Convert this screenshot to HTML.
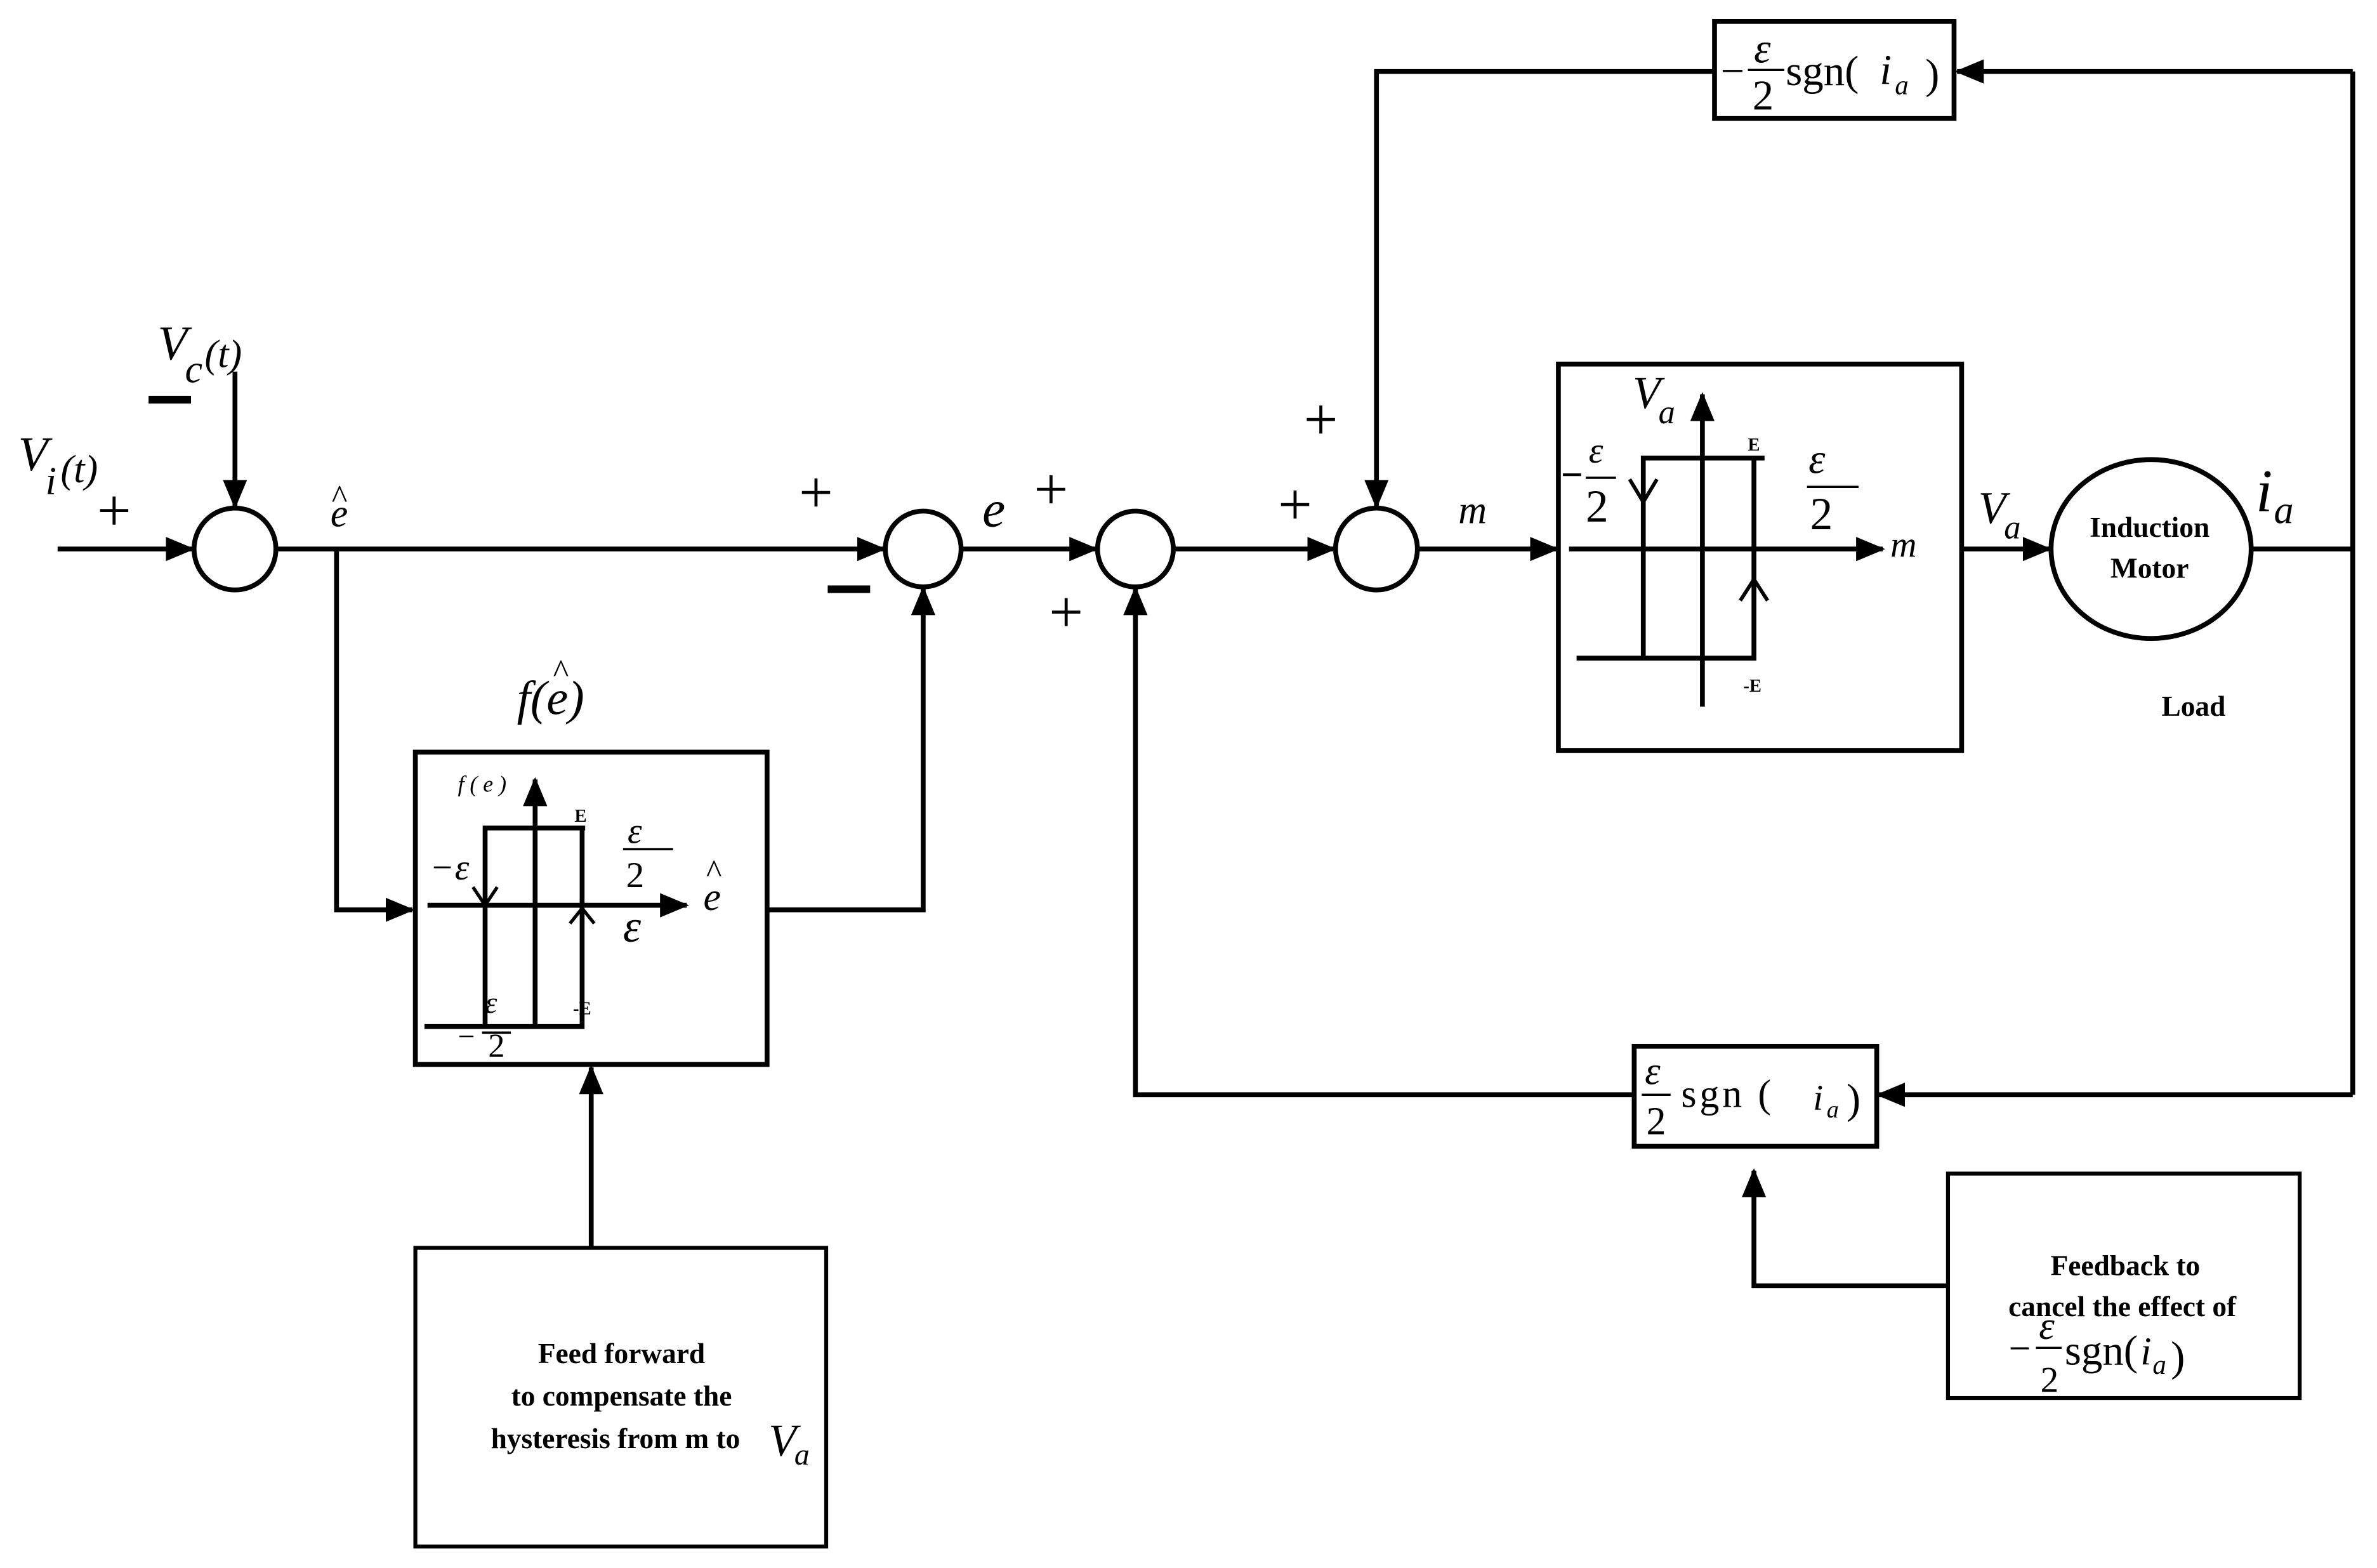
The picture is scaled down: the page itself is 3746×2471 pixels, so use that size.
<!DOCTYPE html>
<html><head><meta charset="utf-8"><style>html,body{margin:0;padding:0;background:#fff}svg{display:block}</style></head><body>
<svg width="3746" height="2471" viewBox="0 0 1568 1034" xmlns="http://www.w3.org/2000/svg">
<defs><marker id="a" markerWidth="6" markerHeight="6" refX="5.5" refY="3" orient="auto" markerUnits="strokeWidth"><path d="M0,0.5 L6,3 L0,5.5 Z" fill="#000"/></marker></defs>
<g stroke="#000" stroke-width="3.2" fill="none">
<line x1="38" y1="362" x2="127" y2="362" marker-end="url(#a)"/>
<line x1="155" y1="245" x2="155" y2="334" marker-end="url(#a)"/>
<circle cx="155" cy="362" r="27"/>
<line x1="182" y1="362" x2="583" y2="362" marker-end="url(#a)"/>
<polyline points="222,362 222,600 272,600" marker-end="url(#a)"/>
<rect x="274" y="496" width="232" height="206"/>
<polyline points="506,600 609,600 609,388" marker-end="url(#a)"/>
<circle cx="609" cy="362" r="25"/>
<line x1="634" y1="362" x2="723" y2="362" marker-end="url(#a)"/>
<circle cx="749" cy="362" r="25"/>
<line x1="774" y1="362" x2="880" y2="362" marker-end="url(#a)"/>
<circle cx="908" cy="362" r="27"/>
<line x1="935" y1="362" x2="1027" y2="362" marker-end="url(#a)"/>
<rect x="1028" y="240" width="266" height="255"/>
<line x1="1294" y1="362" x2="1352" y2="362" marker-end="url(#a)"/>
<ellipse cx="1419" cy="362" rx="66" ry="59"/>
<polyline points="1485,362 1552,362"/>
<polyline points="1552,47 1552,722"/>
<line x1="1552" y1="47" x2="1291" y2="47" marker-end="url(#a)"/>
<rect x="1131" y="14" width="158" height="64"/>
<polyline points="1131,47 908,47 908,334" marker-end="url(#a)"/>
<line x1="1552" y1="722" x2="1239" y2="722" marker-end="url(#a)"/>
<rect x="1078" y="690" width="160" height="66"/>
<polyline points="1078,722 749,722 749,388" marker-end="url(#a)"/>
<rect x="1285" y="774" width="232" height="148" stroke-width="2.6"/>
<polyline points="1285,848 1157,848 1157,772" marker-end="url(#a)"/>
<rect x="274" y="823" width="271" height="197" stroke-width="2.6"/>
<line x1="390" y1="823" x2="390" y2="704" marker-end="url(#a)"/>
<!-- hysteresis main -->
<line x1="1035" y1="362" x2="1242" y2="362" marker-end="url(#a)"/>
<line x1="1123" y1="466" x2="1123" y2="260" marker-end="url(#a)"/>
<polyline points="1084,434 1084,302 1164,302"/>
<polyline points="1040,434 1157,434 1157,302"/>
<polyline points="1075,316 1084,331 1093,316" stroke-width="2.4"/>
<polyline points="1148,396 1157,382 1166,396" stroke-width="2.4"/>
<!-- f box hysteresis -->
<line x1="282" y1="597" x2="453" y2="597" marker-end="url(#a)"/>
<line x1="353" y1="678" x2="353" y2="514" marker-end="url(#a)"/>
<polyline points="320,677 320,546 386,546"/>
<polyline points="280,677 384,677 384,546"/>
<polyline points="312,585 320,597 328,585" stroke-width="2.2"/>
<polyline points="376,609 384,599 392,609" stroke-width="2.2"/>
<line x1="1031" y1="313" x2="1043" y2="313" stroke-width="1.8"/>
<line x1="1046" y1="315" x2="1066" y2="315" stroke-width="1.5"/>
<line x1="1192" y1="321" x2="1226" y2="321" stroke-width="1.5"/>
<line x1="411" y1="560" x2="444" y2="560" stroke-width="1.5"/>
<line x1="318" y1="681" x2="337" y2="681" stroke-width="1.5"/>
<line x1="1153" y1="46" x2="1177" y2="46" stroke-width="1.5"/>
<line x1="1083" y1="722" x2="1102" y2="722" stroke-width="1.5"/>
<line x1="1343" y1="889" x2="1360" y2="889" stroke-width="1.5"/>
</g>
<g font-family="Liberation Serif, serif" fill="#000">
<g font-size="40"><text x="64" y="350">+</text><text x="527" y="338">+</text><text x="682" y="336">+</text><text x="692" y="417">+</text><text x="843" y="346">+</text><text x="860" y="290">+</text></g>
<rect x="98" y="261" width="28" height="5"/><rect x="546" y="386" width="28" height="5"/>
<g font-style="italic">
<text x="12" y="310" font-size="32">V</text><text x="30" y="326" font-size="26">i</text><text x="40" y="318" font-size="26">(t)</text>
<text x="104" y="237" font-size="32">V</text><text x="122" y="252" font-size="26">c</text><text x="135" y="242" font-size="26">(t)</text>
<text x="218" y="347" font-size="26">e</text>
<text x="648" y="347" font-size="34">e</text>
<text x="962" y="345" font-size="26">m</text>
<text x="341" y="471" font-size="32">f(e)</text>
<text x="1077" y="269" font-size="30">V</text><text x="1094" y="279" font-size="22">a</text>
<text x="1305" y="345" font-size="30">V</text><text x="1322" y="355" font-size="22">a</text>
<text x="1247" y="367" font-size="24">m</text>
<text x="1488" y="337" font-size="40">i</text><text x="1500" y="345" font-size="26">a</text>
<text x="1048" y="305" font-size="24">ε</text>
<text x="1193" y="312" font-size="28">ε</text>
<text x="1157" y="41" font-size="28">ε</text>
<text x="1085" y="715" font-size="26">ε</text>
<text x="1345" y="883" font-size="26">ε</text>
<text x="302" y="522" font-size="15">f ( e )</text>
<text x="300" y="580" font-size="24">ε</text><text x="414" y="556" font-size="24">ε</text><text x="411" y="621" font-size="30">ε</text>
<text x="464" y="600" font-size="26">e</text>
<text x="320" y="668" font-size="20">ε</text>
<text x="1240" y="55" font-size="28">i</text><text x="1250" y="62" font-size="18">a</text>
<text x="1196" y="732" font-size="24">i</text><text x="1205" y="737" font-size="16">a</text>
<text x="1412" y="900" font-size="26">i</text><text x="1420" y="906" font-size="18">a</text>
<text x="507" y="960" font-size="30">V</text><text x="524" y="966" font-size="20">a</text>
</g>
<g font-size="22" text-anchor="middle"><text x="224" y="335">^</text><text x="370" y="450">^</text><text x="471" y="582">^</text></g>
<text x="285" y="580" font-size="24">−</text>
<text x="302" y="690" font-size="20">−</text>
<text x="322" y="697" font-size="22">2</text>
<text x="413" y="585" font-size="24">2</text>
<text x="1046" y="344" font-size="30">2</text>
<text x="1194" y="349" font-size="30">2</text>
<text x="1156" y="72" font-size="28">2</text>
<text x="1086" y="748" font-size="26">2</text>
<text x="1346" y="918" font-size="24">2</text>
<text x="1135" y="56" font-size="28">−</text>
<text x="1178" y="56" font-size="28">sgn(</text><text x="1270" y="58" font-size="28">)</text>
<text x="1109" y="730" font-size="26" letter-spacing="2">sgn (</text><text x="1218" y="734" font-size="28">)</text>
<text x="1325" y="898" font-size="26">−</text><text x="1362" y="900" font-size="28">sgn(</text><text x="1432" y="904" font-size="28">)</text>
<g font-size="12" font-weight="bold"><text x="379" y="542">E</text><text x="378" y="669">-E</text><text x="1153" y="297">E</text><text x="1150" y="456">-E</text></g>
<g font-weight="bold" font-size="19" text-anchor="middle">
<text x="1418" y="354">Induction</text><text x="1418" y="381">Motor</text>
<text x="1447" y="472">Load</text>
<text x="1402" y="841">Feedback to</text><text x="1400" y="868">cancel the effect of</text>
<text x="410" y="899">Feed forward</text><text x="410" y="927">to  compensate the</text><text x="406" y="955">hysteresis from m to</text>
</g>
</g>
</svg>
</body></html>
